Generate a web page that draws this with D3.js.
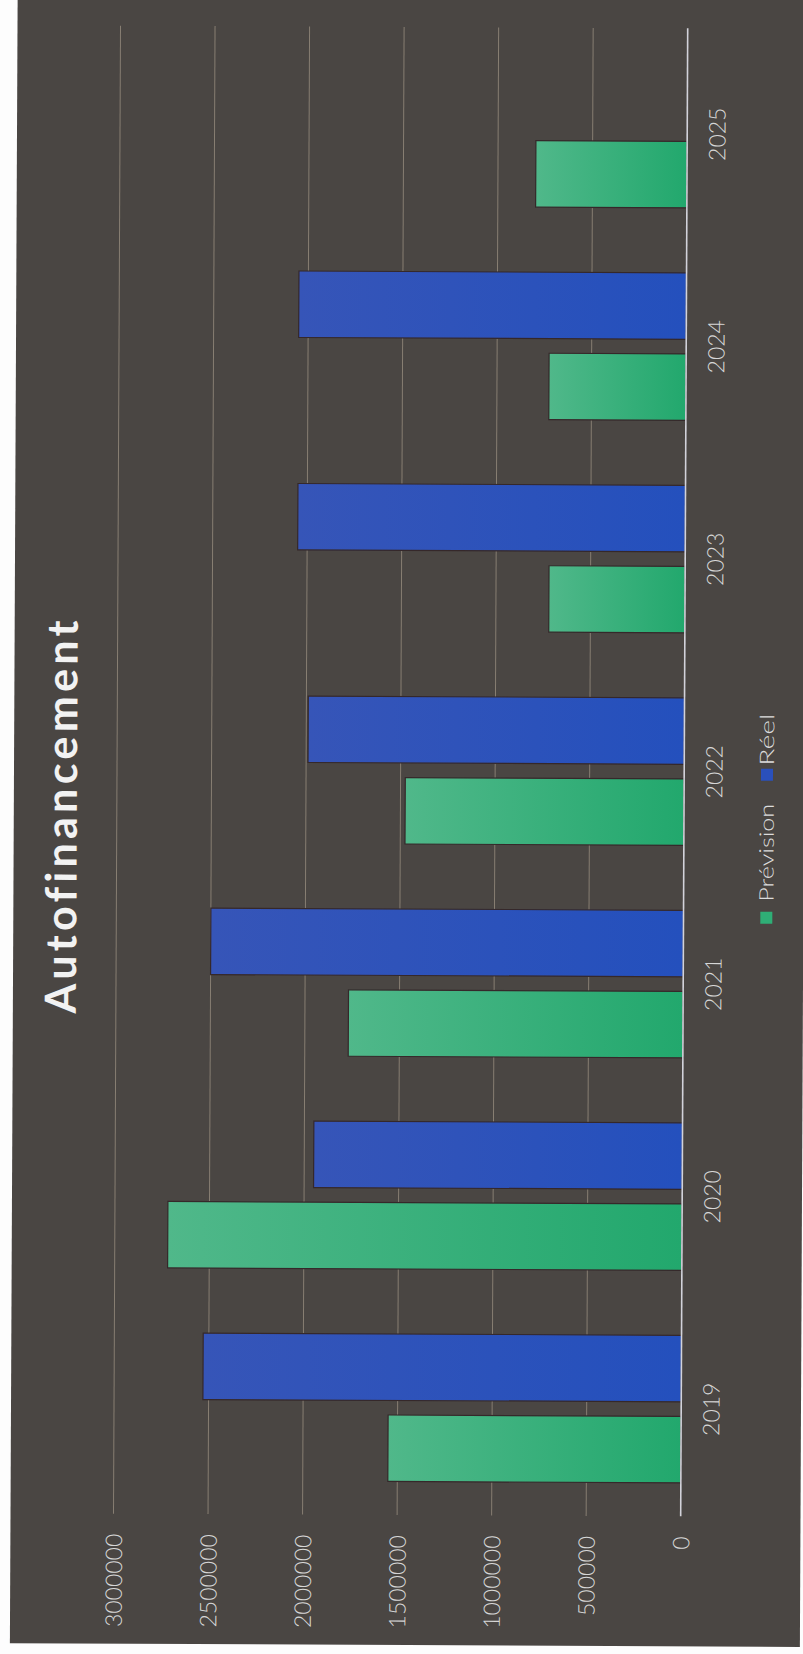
<!DOCTYPE html>
<html>
<head>
<meta charset="utf-8">
<script src="https://cdn.jsdelivr.net/npm/d3@7/dist/d3.min.js"></script>
<style>
  html, body { margin: 0; padding: 0; background: #fdfdfd; }
  svg { display: block; }
  text { font-variant-ligatures: none; font-feature-settings: "liga" 0; }
</style>
</head>
<body>
<svg id="chart" width="803" height="1654"></svg>
<script>
// ---- data ----
const years = ["2019", "2020", "2021", "2022", "2023", "2024", "2025"];
const seriesNames = ["Prévision", "Réel"];
const prevision = [1550000, 2720000, 1770000, 1475000, 720000, 725000, 800000];
const reel = [2530000, 1950000, 2500000, 1990000, 2050000, 2050000, null];
const valueTicks = [0, 500000, 1000000, 1500000, 2000000, 2500000, 3000000];
const title = "Autofinancement";

// ---- setup ----
const svg = d3.select("#chart");
const defs = svg.append("defs");
const gradG = defs.append("linearGradient").attr("id", "gGreen").attr("x1", 0).attr("x2", 1).attr("y1", 0).attr("y2", 0);
gradG.append("stop").attr("offset", "0%").attr("stop-color", "#50b88a");
gradG.append("stop").attr("offset", "100%").attr("stop-color", "#22a86d");
const gradB = defs.append("linearGradient").attr("id", "gBlue").attr("x1", 0).attr("x2", 1).attr("y1", 0).attr("y2", 0);
gradB.append("stop").attr("offset", "0%").attr("stop-color", "#3655b8");
gradB.append("stop").attr("offset", "100%").attr("stop-color", "#2450bd");
const fills = { "Prévision": "url(#gGreen)", "Réel": "url(#gBlue)" };
const legendFills = { "Prévision": "#2fae76", "Réel": "#2a50bb" };

const root = svg.append("g").attr("transform", "rotate(0.27, 400, 771)");

root.append("rect")
  .attr("x", 14).attr("y", -10).attr("width", 790).attr("height", 1655)
  .attr("fill", "#4a4643");

const x = d3.scaleLinear().domain([0, 3000000]).range([684.2, 117]);
const y0 = d3.scaleBand().domain(years).range([1514, 26.5]).paddingInner(0).paddingOuter(0);
const y1 = d3.scaleBand().domain(["Réel", "Prévision"]).range([32.5, 180]).paddingInner(0.18);

const plotTop = 27, plotBottom = 1515;

// gridlines
root.append("g").selectAll("line").data(valueTicks.filter(v => v > 0)).join("line")
  .attr("x1", d => x(d)).attr("x2", d => x(d))
  .attr("y1", plotTop).attr("y2", plotBottom)
  .attr("stroke", "#877e72").attr("stroke-width", 1);

// bars
const rows = years.map((yr, i) => ({ year: yr, values: [
  { series: "Prévision", value: prevision[i] },
  { series: "Réel", value: reel[i] }
].filter(d => d.value != null) }));

const groups = root.append("g").selectAll("g").data(rows).join("g")
  .attr("transform", d => `translate(0,${y0(d.year)})`);
groups.selectAll("rect").data(d => d.values).join("rect")
  .attr("x", d => x(d.value))
  .attr("width", d => x(0) - x(d.value))
  .attr("y", d => y1(d.series))
  .attr("height", y1.bandwidth())
  .attr("fill", d => fills[d.series])
  .attr("stroke", "#35282a").attr("stroke-width", 1.2);

// baseline
root.append("line")
  .attr("x1", x(0)).attr("x2", x(0))
  .attr("y1", plotTop).attr("y2", plotBottom)
  .attr("stroke", "#d2d2da").attr("stroke-width", 1.6);

// value axis labels
const xAxis = root.append("g").attr("transform", `translate(0,${plotBottom})`)
  .call(d3.axisBottom(x).tickValues(valueTicks).tickSize(0).tickFormat(d3.format("d")));
xAxis.select(".domain").remove();
xAxis.selectAll("text")
  .attr("transform", "rotate(-90)")
  .attr("x", -20).attr("y", 0).attr("dy", "0.36em")
  .attr("text-anchor", "end")
  .attr("fill", "#d6d6d6")
  .style("font-family", "Lato, 'Open Sans', sans-serif")
  .style("font-weight", 300)
  .style("font-size", "23px");

// category axis labels
const yAxis = root.append("g").attr("transform", `translate(${x(0)},0)`)
  .call(d3.axisRight(y0).tickSize(0));
yAxis.select(".domain").remove();
yAxis.selectAll("text")
  .attr("transform", "rotate(-90)")
  .attr("x", 0).attr("y", 30).attr("dy", "0.36em")
  .attr("text-anchor", "middle")
  .attr("fill", "#d6d6d6")
  .style("font-family", "Lato, 'Open Sans', sans-serif")
  .style("font-weight", 300)
  .style("font-size", "23px");

// title
root.append("text")
  .attr("transform", "translate(77,818.5) rotate(-90)")
  .attr("text-anchor", "middle")
  .attr("textLength", 393).attr("lengthAdjust", "spacing")
  .attr("fill", "#f2f2f2")
  .style("font-family", "Lato, 'Liberation Sans', sans-serif")
  .style("font-weight", 700)
  .style("font-size", "43px")
  .text(title);

// legend
const legend = root.append("g").attr("transform", "translate(774,922) rotate(-90)");
const legendItems = [
  { name: seriesNames[0], sq: 0, tx: 22, len: 98 },
  { name: seriesNames[1], sq: 143, tx: 158, len: 52 }
];
legend.selectAll("rect").data(legendItems).join("rect")
  .attr("x", d => d.sq).attr("y", -13).attr("width", 12).attr("height", 12)
  .attr("fill", d => legendFills[d.name]);
legend.selectAll("text").data(legendItems).join("text")
  .attr("x", d => d.tx).attr("y", 0)
  .attr("textLength", d => d.len).attr("lengthAdjust", "spacingAndGlyphs")
  .attr("fill", "#dcdcdc")
  .style("font-family", "Lato, 'Open Sans', sans-serif")
  .style("font-weight", 300)
  .style("font-size", "20px")
  .text(d => d.name);
</script>
</body>
</html>
